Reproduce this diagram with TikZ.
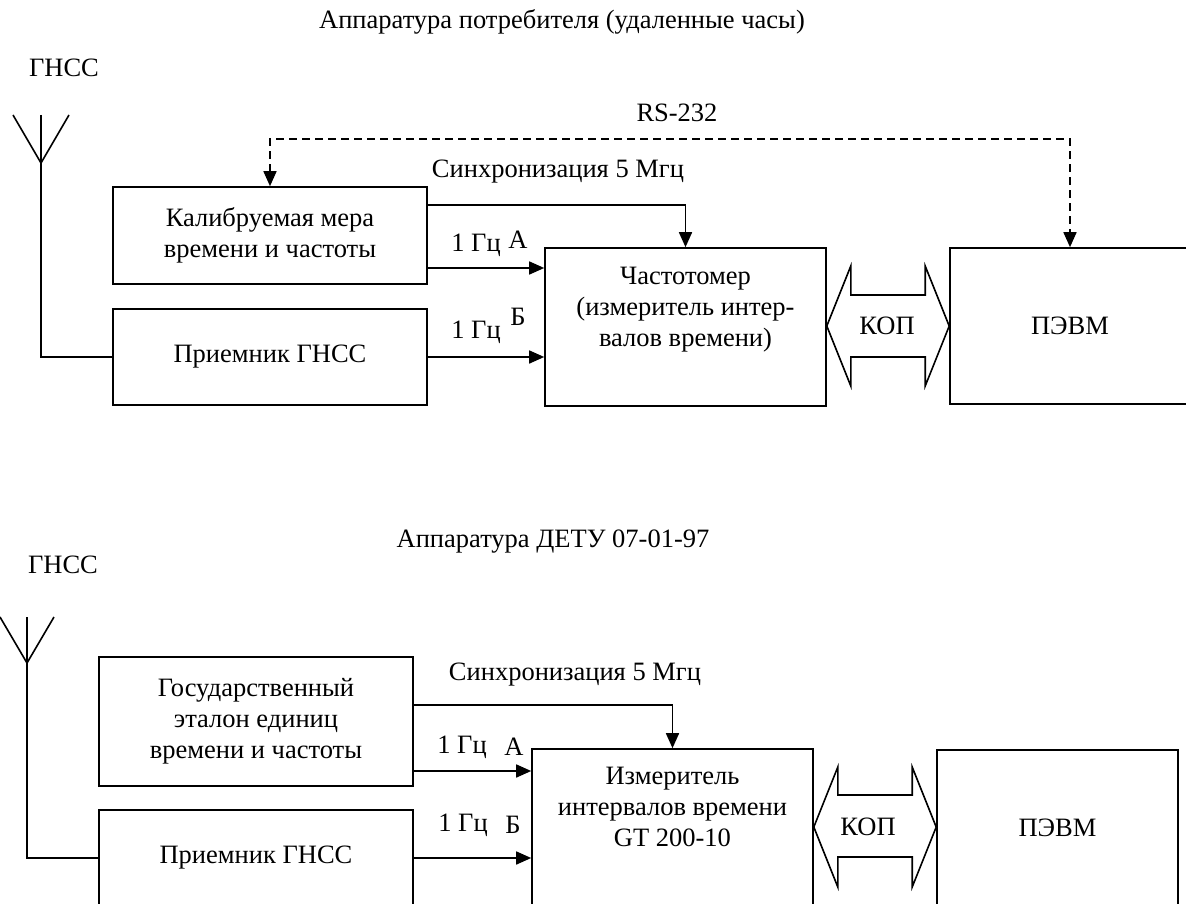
\documentclass[tikz,border=0pt]{standalone}
\usepackage{fontspec}
\setmainfont{Liberation Serif}
\usetikzlibrary{arrows.meta,calc}

\begin{document}
\begin{tikzpicture}[x=1pt, y=-1pt, line width=1.6pt,
    >={Triangle[length=15pt, width=13pt]},
    every node/.style={font=\fontsize{26.5}{31}\selectfont, inner sep=0pt},
    box/.style={draw, align=center},
    txt/.style={align=center},
    rsline/.style={dashed, dash pattern=on 8pt off 5pt}]
    \useasboundingbox (0,0) rectangle (1186,904);
    \clip (0,0) rectangle (1186,904);

    % Upper scheme: consumer equipment
    \node[txt] (title1) at (562,22) {Аппаратура потребителя (удаленные часы)};
    \node (gnss1) at (64,68) {ГНСС};
    \node (rs) at (677,113) {RS-232};
    \node[box, minimum width=314pt, minimum height=97pt] (cal) at (270,235.5) {Калибруемая мера\\времени и частоты};
    \node[box, minimum width=314pt, minimum height=96pt] (rcv1) at (270,357) {Приемник ГНСС};
    \node[box, minimum width=281pt, minimum height=158pt] (freq) at (685.5,327) {};
    \node[txt] (freqtxt) at (685.5,310) {Частотомер\\(измеритель интер-\\валов времени)};
    \node[box, minimum width=240pt, minimum height=156pt] (pc1) at (1070,326) {ПЭВМ};
    \node (kop1) at (887,326) {КОП};

    % Signal levels
    \coordinate (rsy) at (0,139);
    \coordinate (syn1) at (0,205);
    \coordinate (ina1) at (0,268);
    \coordinate (inb1) at (0,357);

    % Antenna
    \coordinate (ant1) at (41,115);
    \draw (ant1) ++(-28,0) -- ++(28,48) -- ++(28,-48);
    \draw (ant1) |- (rcv1.west);

    % Links
    \draw[<->, rsline] (cal.north) -- (cal.north |- rsy) -| (pc1.north);
    \draw[->] (cal.east |- syn1) -| (freq.north);
    \draw[->] (cal.east |- ina1) -- (freq.west |- ina1);
    \draw[->] (rcv1.east |- inb1) -- (freq.west |- inb1);
    \node (syn1txt) at (558,172) {Синхронизация 5 Мгц};
    \node (hz1a) at (476,245) {1 Гц};
    \node (pa1) at (518,240) {А};
    \node (hz1b) at (476,332) {1 Гц};
    \node (pb1) at (518,317) {Б};

    % Bus
    \draw (freq.east |- kop1) -- ++(24,-60) -- ++(0,29) -- ($(pc1.west |- kop1)+(-24,-31)$) -- ++(0,-29) -- (pc1.west |- kop1)
      -- ++(-24,60) -- ++(0,-29) -- ($(freq.east |- kop1)+(24,31)$) -- ++(0,29) -- cycle;

    % Lower scheme: DETU equipment
    \node[txt] (title2) at (553,542) {Аппаратура ДЕТУ 07-01-97};
    \node (gnss2) at (63,565) {ГНСС};
    \node[box, minimum width=314pt, minimum height=129pt] (std) at (256,721.5) {Государственный\\эталон единиц\\времени и частоты};
    \node[box, minimum width=314pt, minimum height=96pt] (rcv2) at (256,858) {Приемник ГНСС};
    \node[box, minimum width=281pt, minimum height=157pt] (meter) at (672.5,827.5) {};
    \node[txt] (metertxt) at (672.5,807) {Измеритель\\интервалов времени\\GT 200-10};
    \node[box, minimum width=241pt, minimum height=156pt] (pc2) at (1057.5,828) {ПЭВМ};
    \node (kop2) at (868,827) {КОП};

    \coordinate (syn2) at (0,705);
    \coordinate (ina2) at (0,771);
    \coordinate (inb2) at (0,858);

    \coordinate (ant2) at (27,617);
    \draw (ant2) ++(-27,0) -- ++(27,46) -- ++(27,-46);
    \draw (ant2) |- (rcv2.west);

    \draw[->] (std.east |- syn2) -| (meter.north);
    \draw[->] (std.east |- ina2) -- (meter.west |- ina2);
    \draw[->] (rcv2.east |- inb2) -- (meter.west |- inb2);
    \node (syn2txt) at (575,675) {Синхронизация 5 Мгц};
    \node (hz2a) at (462,747) {1 Гц};
    \node (pa2) at (514,747) {А};
    \node (hz2b) at (463,825) {1 Гц};
    \node (pb2) at (513,825) {Б};

    \draw (meter.east |- kop2) -- ++(24,-60) -- ++(0,28) -- ($(pc2.west |- kop2)+(-24,-32)$) -- ++(0,-28) -- (pc2.west |- kop2)
      -- ++(-24,60) -- ++(0,-30) -- ($(meter.east |- kop2)+(24,30)$) -- ++(0,30) -- cycle;
\end{tikzpicture}
\end{document}
